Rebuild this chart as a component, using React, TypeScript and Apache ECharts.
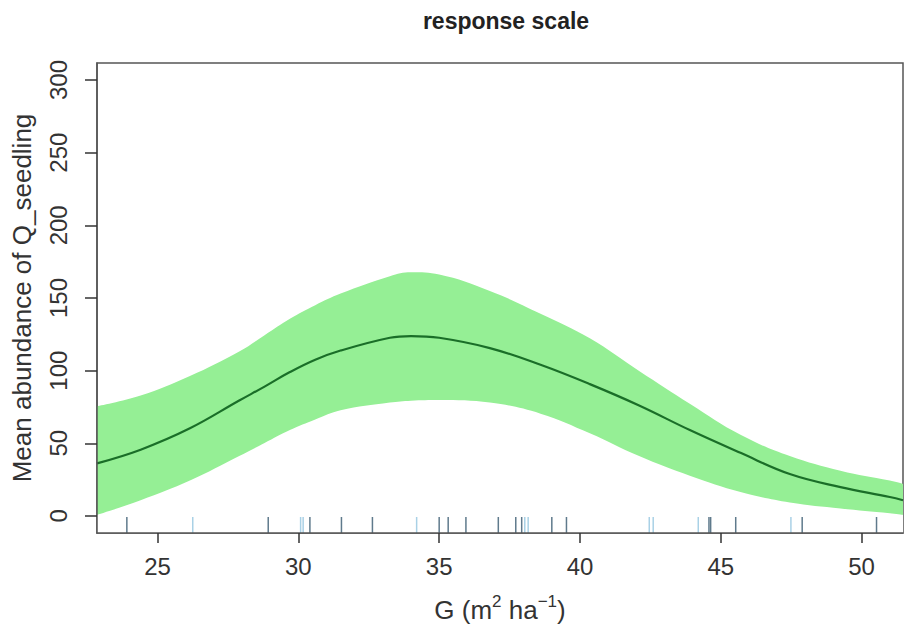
import React, { useEffect, useRef } from "react";
import * as echarts from "echarts";

// ---- data ----
const G = [22.85, 24.4, 26.15, 27.9, 28.8, 29.7, 30.6, 31.5, 33.25, 34.0, 35.0, 36.8, 38.6, 40.35, 42.1, 43.9, 45.7, 47.45, 49.25, 51.0, 51.47];
const fitMean = [36.2, 45.6, 60.3, 79.4, 89.0, 99.0, 107.5, 113.8, 122.6, 123.8, 122.6, 115.5, 104.0, 90.7, 76.0, 59.1, 43.4, 28.8, 19.8, 13.0, 10.8];
const upperCI = [75.4, 82.8, 96.3, 113.2, 124.4, 135.7, 145.0, 153.0, 165.0, 167.7, 166.1, 154.8, 139.1, 122.2, 99.7, 77.2, 55.8, 41.2, 31.1, 24.3, 22.0];
const lowerCI = [0.7, 10.8, 24.3, 41.2, 50.2, 59.1, 66.4, 72.7, 78.0, 79.3, 79.8, 78.0, 70.4, 56.9, 41.2, 27.7, 16.5, 9.2, 5.1, 1.8, 0.7];

const rugDark = [23.91, 28.93, 30.41, 31.53, 32.63, 35.0, 35.32, 35.95, 37.1, 37.72, 37.93, 39.0, 39.52, 44.58, 44.64, 45.53, 47.89, 50.53];
const rugLight = [26.25, 30.08, 30.17, 34.2, 38.04, 38.16, 42.46, 42.6, 44.2, 47.49];

const xTicks = [25, 30, 35, 40, 45, 50];
const yTicks = [0, 50, 100, 150, 200, 250, 300];

const X_MIN = 22.85;
const X_MAX = 51.47;
const Y_MIN = -11.75;
const Y_MAX = 311.7;

const FONT = "'Liberation Sans', Arial, Helvetica, sans-serif";

export default function App() {
  const ref = useRef<HTMLDivElement>(null);

  useEffect(() => {
    if (!ref.current) return;
    const chart = echarts.init(ref.current, null, { renderer: "svg" });

    const rugSeries = (vals: number[], color: string) => ({
      type: "custom",
      data: vals.map((v) => [v, Y_MIN]),
      encode: { x: 0, y: 1 },
      silent: true,
      z: 5,
      renderItem: (_params: any, api: any) => {
        const p = api.coord([api.value(0), Y_MIN]);
        return {
          type: "line",
          shape: { x1: p[0], y1: p[1], x2: p[0], y2: p[1] - 16 },
          style: { stroke: color, lineWidth: 1.5 },
        };
      },
    });

    chart.setOption({
      animation: false,
      backgroundColor: "#ffffff",
      textStyle: { fontFamily: FONT },
      title: {
        text: "response scale",
        left: 501,
        top: 4,
        textAlign: "center",
        textStyle: { fontFamily: FONT, fontWeight: "bold", fontSize: 23, color: "#222" },
      },
      grid: {
        left: 97,
        right: 1,
        top: 63,
        bottom: 90,
        show: true,
        borderColor: "#555",
        borderWidth: 1.5,
        backgroundColor: "transparent",
      },
      xAxis: {
        type: "value",
        min: X_MIN,
        max: X_MAX,
        z: 10,
        name: "G (m{sup|2} ha{sup|\u22121})",
        nameLocation: "middle",
        nameGap: 60,
        nameTextStyle: {
          fontFamily: FONT,
          fontSize: 26,
          color: "#333",
          lineHeight: 34,
          rich: {
            sup: { fontSize: 17, verticalAlign: "top", lineHeight: 20, color: "#333", fontFamily: FONT },
          },
        },
        axisLine: { show: true, onZero: false, lineStyle: { color: "#555", width: 1.5 } },
        axisTick: {
          show: true,
          length: 10,
          customValues: xTicks,
          lineStyle: { color: "#333", width: 1.5 },
        },
        axisLabel: {
          customValues: xTicks,
          margin: 21,
          fontSize: 24,
          color: "#333",
          fontFamily: FONT,
        },
        splitLine: { show: false },
      },
      yAxis: {
        type: "value",
        min: Y_MIN,
        max: Y_MAX,
        z: 10,
        name: "Mean abundance of Q_seedling",
        nameLocation: "middle",
        nameGap: 62,
        nameTextStyle: { fontFamily: FONT, fontSize: 26, color: "#333" },
        axisLine: { show: true, onZero: false, lineStyle: { color: "#555", width: 1.5 } },
        axisTick: {
          show: true,
          length: 12,
          customValues: yTicks,
          lineStyle: { color: "#333", width: 1.5 },
        },
        axisLabel: {
          customValues: yTicks,
          rotate: 90,
          margin: 27,
          fontSize: 24,
          color: "#333",
          fontFamily: FONT,
        },
        splitLine: { show: false },
      },
      series: [
        {
          type: "line",
          name: "upper",
          data: G.map((x, i) => [x, upperCI[i]]),
          smooth: 0.4,
          symbol: "none",
          lineStyle: { opacity: 0 },
          areaStyle: { color: "#95ef95", opacity: 1, origin: "start" },
          silent: true,
          z: 1,
        },
        {
          type: "line",
          name: "lower",
          data: G.map((x, i) => [x, lowerCI[i]]),
          smooth: 0.4,
          symbol: "none",
          lineStyle: { opacity: 0 },
          areaStyle: { color: "#ffffff", opacity: 1, origin: "start" },
          silent: true,
          z: 2,
        },
        {
          type: "line",
          name: "fit",
          data: G.map((x, i) => [x, fitMean[i]]),
          smooth: 0.4,
          symbol: "none",
          lineStyle: { color: "#1a6e28", width: 2.2 },
          silent: true,
          z: 3,
        },
        rugSeries(rugDark, "#5f7a8c"),
        rugSeries(rugLight, "#a9d1e6"),
      ],
    });

    return () => chart.dispose();
  }, []);

  return (
    <div
      ref={ref}
      style={{ position: "absolute", left: 0, top: 0, width: 904, height: 632 }}
    />
  );
}
